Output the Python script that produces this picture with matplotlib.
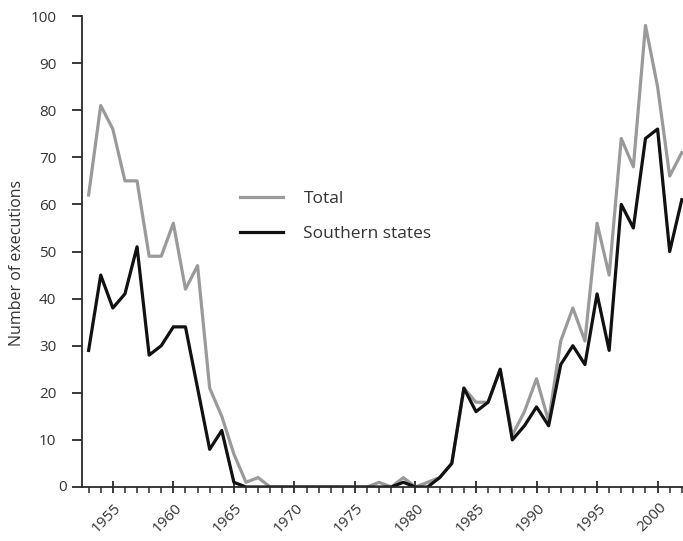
import numpy as np
from matplotlib import pyplot as plt
from matplotlib.ticker import MultipleLocator, FuncFormatter
from matplotlib.transforms import ScaledTranslation

plt.rcParams['font.family'] = ['Open Sans', 'DejaVu Sans']

years = list(range(1953, 2003))
total = [62, 81, 76, 65, 65, 49, 49, 56, 42, 47,
         21, 15, 7, 1, 2, 0, 0, 0, 0, 0,
         0, 0, 0, 0, 1, 0, 2, 0, 1, 2,
         5, 21, 18, 18, 25, 11, 16, 23, 14, 31,
         38, 31, 56, 45, 74, 68, 98, 85, 66, 71]
southern = [29, 45, 38, 41, 51, 28, 30, 34, 34, 21,
            8, 12, 1, 0, 0, 0, 0, 0, 0, 0,
            0, 0, 0, 0, 0, 0, 1, 0, 0, 2,
            5, 21, 16, 18, 25, 10, 13, 17, 13, 26,
            30, 26, 41, 29, 60, 55, 74, 76, 50, 61]

fig = plt.figure(figsize=(6.83, 5.41), dpi=100)
ax = fig.add_axes([0.12, 0.0998, 0.88, 0.8706])

ax.plot(years, total, color='#9a9a9a', lw=2.3, label='Total')
ax.plot(years, southern, color='#111111', lw=2.3, label='Southern states')

ax.set_xlim(1952.45, 2002.1)
ax.set_ylim(0, 100)
ax.set_yticks(range(0, 101, 10))
ax.set_xticks(range(1955, 2001, 5))
ax.xaxis.set_minor_locator(MultipleLocator(1))
# the zero sits by itself closer to the corner
ax.yaxis.set_major_formatter(FuncFormatter(lambda v, p: '' if v == 0 else '%d' % v))
ax.annotate('0', xy=(0, 0), xycoords=('axes fraction', 'data'), xytext=(-11, 0),
            textcoords='offset points', ha='right', va='center',
            fontsize=11, color='#333333')

for s in ['top', 'right']:
    ax.spines[s].set_visible(False)
for s in ['left', 'bottom']:
    ax.spines[s].set_color('#2a2a2a')
    ax.spines[s].set_linewidth(1.3)

ax.tick_params(axis='y', direction='out', length=7.5, width=1.3, color='#2a2a2a',
               labelsize=11, labelcolor='#333333', pad=11)
ax.tick_params(axis='x', which='major', direction='inout', length=9, width=1.3,
               color='#2a2a2a', labelsize=11, labelcolor='#333333', pad=5)
ax.tick_params(axis='x', which='minor', direction='out', length=4, width=1.1,
               color='#2a2a2a')
off = ScaledTranslation(0.01, 0, fig.dpi_scale_trans)
for lab in ax.get_xticklabels():
    lab.set_rotation(45)
    lab.set_ha('right')
    lab.set_va('top')
    lab.set_rotation_mode('anchor')
    lab.set_transform(lab.get_transform() + off)

ax.set_ylabel('Number of executions', fontsize=11.5, color='#333333')
ax.yaxis.set_label_coords(-0.095, 0.476)

ax.legend(loc='upper left', bbox_to_anchor=(0.263, 0.628), frameon=False,
          borderpad=0, borderaxespad=0,
          fontsize=12.5, handlelength=2.5, handletextpad=1.15, labelspacing=1.05,
          labelcolor='#333333')

fig.savefig('out.png', dpi=100)
